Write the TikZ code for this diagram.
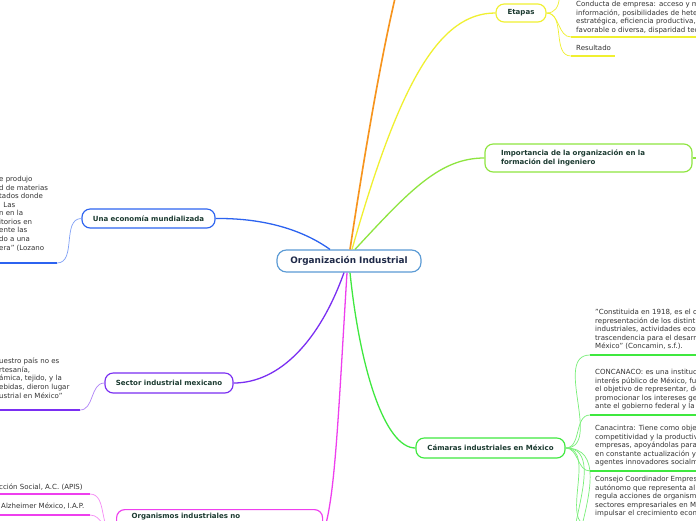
\documentclass[tikz,border=0pt]{standalone}
\usepackage{fontspec}
\setmainfont{DejaVu Sans}
\usetikzlibrary{positioning,calc}
\definecolor{rootblue}{HTML}{5B9BD5}
\definecolor{roottext}{HTML}{1F2A48}
\definecolor{topictext}{HTML}{1B3A30}
\definecolor{leaftext}{HTML}{333333}
\definecolor{orangeline}{HTML}{F7941D}
\definecolor{yelline}{HTML}{F0F030}
\definecolor{limeline}{HTML}{8EE53F}
\definecolor{blueline}{HTML}{2C63F0}
\definecolor{purpline}{HTML}{7A2EF2}
\definecolor{magline}{HTML}{EE3FEE}
\definecolor{greenline}{HTML}{3FE83F}
\tikzset{
  topic/.style={draw, fill=white, rounded corners=7pt, line width=1pt,
    inner sep=0pt, font=\bfseries\fontsize{6}{7.6}\selectfont, text=topictext},
  leaf/.style={anchor=north west, inner sep=0pt, align=left,
    font=\fontsize{6}{7.3}\selectfont, text=leaftext},
  branch/.style={line width=1.1pt},
  twig/.style={line width=0.6pt},
  uline/.style={line width=1.6pt},
}
\begin{document}
\begin{tikzpicture}[x=0.03cm,y=-0.03cm]
  \useasboundingbox (0,0) rectangle (696,520);
  \clip (0,0) rectangle (696,520);
  \fill[white] (0,0) rectangle (696,520);
  % the root
  \node[topic, draw=rootblue, text=roottext, font=\bfseries\fontsize{7.6}{9}\selectfont,
    minimum width=4.32cm, minimum height=0.66cm, rounded corners=8pt] (root) at (349,261)
    {Organización Industrial};
  % main topics
  \node[topic, draw=yelline, minimum width=1.5cm, minimum height=0.54cm] (etapas) at (521,13) {Etapas};
  \node[topic, draw=limeline, text width=5.25cm, inner xsep=0.48cm, minimum height=0.84cm, align=left]
    (importancia) at (588.5,158) {Importancia de la organización en la\\formación del ingeniero};
  \node[topic, draw=blueline, minimum width=3.99cm, minimum height=0.57cm] (economia) at (148.5,218.5)
    {Una economía mundializada};
  \node[topic, draw=purpline, minimum width=3.84cm, minimum height=0.6cm] (sector) at (169,383)
    {Sector industrial mexicano};
  \node[topic, draw=greenline, minimum width=4.47cm, minimum height=0.6cm] (camaras) at (490.5,448)
    {Cámaras industriales en México};
  \node[topic, draw=magline, anchor=north west, text width=5.28cm, inner xsep=0.45cm, inner ysep=0.12cm,
    text depth=1cm, align=left] (organismos) at (116,509) {Organismos industriales no};
  % ends that leave the frame
  \coordinate (offtop) at (397,-10);
  \coordinate (etapasup) at (559,-30);
  \coordinate (imprt) at (710,158);
  % branches from the root
  \draw[branch, orangeline, line width=1.4pt] ($(root.north)+(1,0)$) .. controls (362,170) and (380,60) .. (offtop);
  \draw[branch, yelline] ($(root.north)+(3,0)$) .. controls (400,80) and (440,13) .. (etapas.west);
  \draw[branch, limeline] ($(root.north)+(6,0)$) .. controls (410,190) and (440,158) .. (importancia.west);
  \draw[branch, blueline] ($(root.north)+(-19,0)$) .. controls (300,228) and (260,218) .. (economia.east);
  \draw[branch, purpline] ($(root.south)+(-5,0)$) .. controls (320,340) and (280,383) .. (sector.east);
  \draw[branch, magline] ($(root.south)+(-2,0)$) .. controls (338,420) and (335,500) .. (organismos.east);
  \draw[branch, greenline] ($(root.south)+(1,0)$) .. controls (360,370) and (385,448) .. (camaras.west);
  \draw[branch, limeline] (importancia.east) -- (imprt);
  % etapas leaves
  \coordinate (ulcond) at (571,37);
  \coordinate (ulres) at (571,56);
  \draw[twig, yelline] (etapas.east) to[out=0,in=-90] (etapasup);
  \draw[twig, yelline] (etapas.east) to[out=0,in=180] (ulcond);
  \draw[twig, yelline] (etapas.east) to[out=0,in=180] (ulres);
  \draw[uline, yelline] (ulcond) -- ++(130,0);
  \draw[uline, yelline] (ulres) -- ++(44,0);
  \node[leaf] (conducta) at (576,1) {Conducta de empresa: acceso y m\\información, posibilidades de hete\\estratégica, eficiencia productiva,\\favorable o diversa, disparidad tec};
  \node[leaf] (resultado) at (576,45) {Resultado};
  % camaras leaves
  \coordinate (ulconcamin) at (590,355);
  \coordinate (ulconcanaco) at (590,415);
  \coordinate (ulcanacintra) at (590,471);
  \coordinate (ulconsejo) at (590,526);
  \coordinate (ulnext) at (590,580);
  \coordinate (ullast) at (590,635);
  \foreach \u in {ulconcamin,ulconcanaco,ulcanacintra,ulconsejo,ulnext,ullast}
    \draw[twig, greenline!70] (camaras.east) to[out=0,in=180] (\u);
  \foreach \u in {ulconcamin,ulconcanaco,ulcanacintra,ulconsejo}
    \draw[uline, greenline] (\u) -- ++(110,0);
  \node[leaf] (concamin) at (595,309) {"Constituida en 1918, es el o\\representación de los distint\\industriales, actividades econ\\trascendencia para el desarr\\México" (Concamin, s.f.).};
  \node[leaf] (concanaco) at (595,369) {CONCANACO: es una instituc\\interés público de México, fu\\el objetivo de representar, de\\promocionar los intereses ge\\ante el gobierno federal y la};
  \node[leaf] (canacintra) at (595,425) {Canacintra: Tiene como obje\\competitividad y la productiv\\empresas, apoyándolas para\\en constante actualización y\\agentes innovadores socialm};
  \node[leaf] (consejo) at (595,476) {Consejo Coordinador Empres\\autónomo que representa al\\regula acciones de organism\\sectores empresariales en M\\impulsar el crecimiento econ};
  % left leaves
  \coordinate (uleco) at (57,263);
  \coordinate (ulsec) at (80,410);
  \coordinate (ulapis) at (90,494);
  \coordinate (ulalz) at (90,515);
  \draw[twig, blueline!60] (economia.west) to[out=180,in=0] (uleco);
  \draw[twig, purpline!60] (sector.west) to[out=180,in=0] (ulsec);
  \draw[twig, magline!60] (organismos.west) to[out=180,in=0] (ulapis);
  \draw[twig, magline!60] (organismos.west) to[out=180,in=0] (ulalz);
  \draw[uline, blueline] (uleco) -- ++(-70,0);
  \draw[uline, purpline] (ulsec) -- ++(-90,0);
  \draw[uline, magline] (ulapis) -- ++(-100,0);
  \draw[uline, magline] (ulalz) -- ++(-100,0);
  \node[leaf] (ecotxt) at (-1,176) {e produjo\\d de materias\\tados donde\\\hspace{3.6pt}Las\\n en la\\itorios en\\ente las\\do a una\\era" (Lozano};
  \node[leaf] (sectxt) at (-1,358) {uestro país no es\\rtesanía,\\ámica, tejido, y la\\ebidas, dieron lugar\\ustrial en México"};
  \node[leaf] (apis) at (-1,484) {cción Social, A.C. (APIS)};
  \node[leaf] (alzheimer) at (1,503) {Alzheimer México, I.A.P.};
\end{tikzpicture}
\end{document}
